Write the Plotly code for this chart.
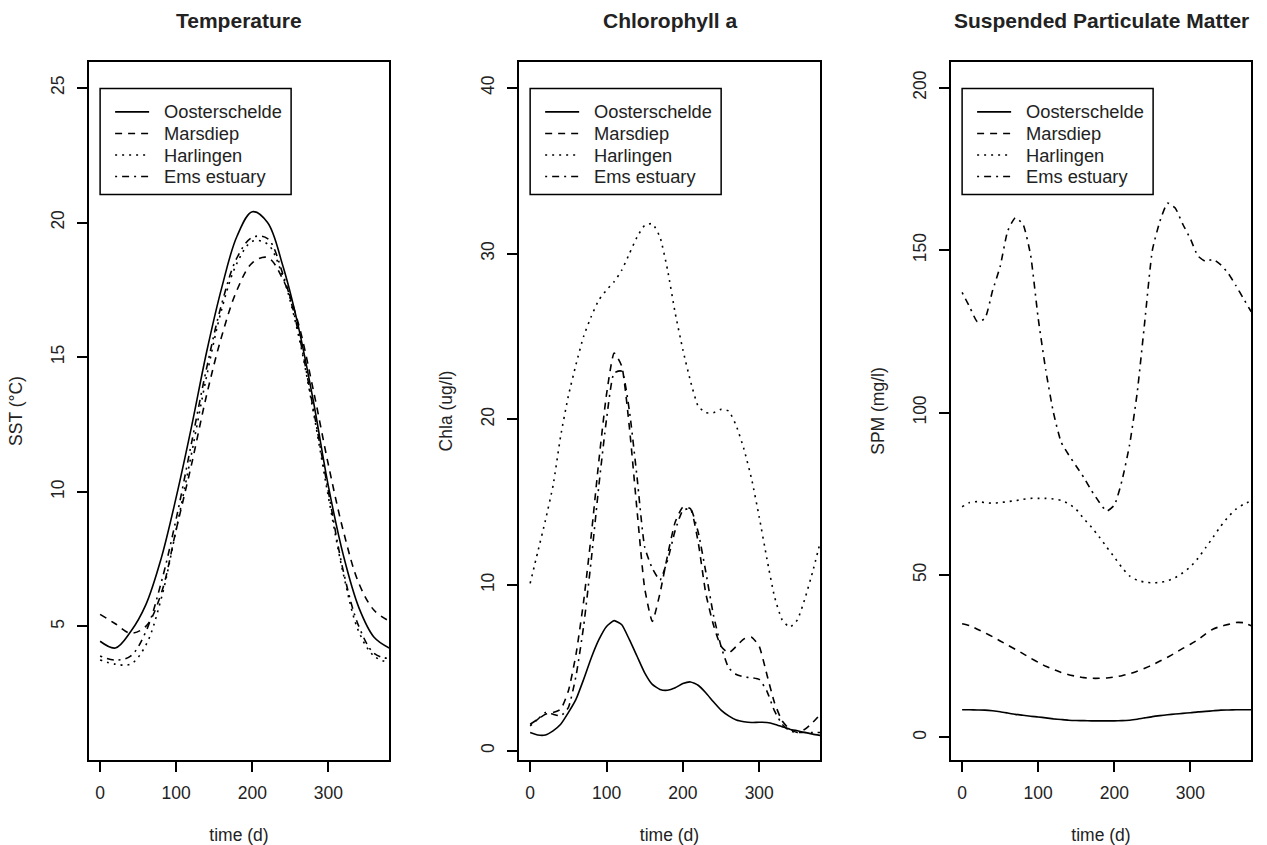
import plotly.graph_objects as go

W, H = 1267, 845

# ---------------- data ----------------
series_names = ["Oosterschelde", "Marsdiep", "Harlingen", "Ems estuary"]

# Temperature (SST, deg C), time in days
t_temp = list(range(0, 381, 20))
sst_oosterschelde = [4.45, 4.2, 4.8, 5.8, 7.5, 9.8, 12.4, 15.2, 17.6, 19.5, 20.4, 20.0, 18.4, 16.2, 13.4, 10.2, 7.6, 5.7, 4.6, 4.2]
sst_marsdiep = [5.45, 5.1, 4.75, 5.0, 6.2, 8.6, 11.0, 13.6, 15.8, 17.5, 18.5, 18.7, 17.9, 16.3, 13.8, 11.0, 8.5, 6.6, 5.6, 5.2]
sst_harlingen = [3.75, 3.6, 3.6, 4.3, 6.0, 8.6, 11.4, 14.3, 16.8, 18.5, 19.3, 19.2, 18.0, 15.9, 13.0, 9.8, 6.9, 4.8, 3.9, 3.65]
sst_ems = [3.9, 3.75, 3.9, 4.8, 6.6, 9.0, 11.8, 14.6, 17.0, 18.7, 19.45, 19.4, 18.1, 16.0, 13.1, 10.0, 7.0, 5.0, 4.0, 3.8]

# Chlorophyll a (ug/l)
t_chl = list(range(0, 381, 10))
chl_oosterschelde = [1.1, 0.95, 0.95, 1.2, 1.6, 2.3, 3.1, 4.3, 5.6, 6.7, 7.5, 7.85, 7.6, 6.7, 5.7, 4.7, 4.0, 3.7, 3.65, 3.8,
                     4.05, 4.15, 3.95, 3.5, 2.95, 2.45, 2.1, 1.85, 1.75, 1.7, 1.72, 1.7, 1.6, 1.45, 1.3, 1.2, 1.1, 1.0, 0.92]
chl_marsdiep = [1.6, 1.9, 2.2, 2.3, 2.5, 3.6, 5.8, 9.0, 13.0, 17.5, 21.5, 24.0, 23.2, 19.5, 14.5, 9.8, 7.8, 9.5, 11.8, 13.8,
                14.7, 14.6, 12.6, 9.5, 7.6, 6.3, 5.9, 6.3, 6.75, 6.85, 6.3, 4.6, 2.9, 1.8, 1.3, 1.1, 1.3, 1.7, 2.2]
chl_harlingen = [10.1, 12.0, 13.9, 16.0, 19.0, 21.4, 23.3, 25.0, 26.2, 27.2, 27.8, 28.3, 29.0, 30.0, 31.0, 31.7, 31.8, 31.0, 29.0, 26.4,
                 24.2, 22.3, 20.8, 20.4, 20.4, 20.6, 20.5, 19.6, 18.2, 16.4, 14.1, 11.6, 9.3, 7.9, 7.45, 7.9, 9.2, 10.8, 12.6]
chl_ems = [1.5, 1.9, 2.3, 2.2, 2.1, 2.6, 4.5, 7.5, 11.5, 16.0, 20.0, 22.8, 22.9, 20.5, 16.5, 12.3, 11.0, 10.3, 11.5, 13.3,
           14.5, 14.6, 13.2, 10.8, 8.2, 6.3, 5.0, 4.6, 4.45, 4.4, 4.3, 3.6, 2.4, 1.6, 1.2, 1.1, 1.1, 1.1, 1.1]

# Suspended particulate matter (mg/l)
t_spm = list(range(0, 381, 10))
spm_oosterschelde = [8.5, 8.5, 8.45, 8.4, 8.2, 7.9, 7.5, 7.1, 6.8, 6.5, 6.3, 6.0, 5.7, 5.5, 5.3, 5.2, 5.15, 5.1, 5.1, 5.1,
                     5.1, 5.15, 5.3, 5.6, 6.0, 6.4, 6.7, 6.95, 7.2, 7.4, 7.6, 7.85, 8.0, 8.2, 8.4, 8.45, 8.5, 8.5, 8.5]
spm_marsdiep = [35, 34.4, 33.3, 32.2, 31, 29.7, 28.4, 27.1, 25.8, 24.4, 23.1, 21.9, 20.9, 20.0, 19.3, 18.8, 18.4, 18.2, 18.2, 18.3,
                18.6, 19.0, 19.6, 20.4, 21.3, 22.3, 23.5, 24.7, 26.0, 27.4, 28.7, 30.1, 31.9, 33.4, 34.2, 34.8, 35.4, 35.3, 34.4]
spm_harlingen = [71, 72.3, 72.6, 72.3, 72.1, 72.3, 72.6, 72.9, 73.3, 73.6, 73.6, 73.6, 73.4, 73.0, 72.0, 70.2, 67.3, 64.7, 61.8, 58.6,
                 55.5, 52.3, 49.7, 48.4, 47.8, 47.6, 47.7, 48.2, 49.2, 50.7, 52.5, 55.2, 58.4, 61.7, 65.1, 68.0, 70.3, 71.8, 72.8]
spm_ems = [137, 132.5, 128, 129, 137.5, 145, 156, 160, 158, 148.5, 129, 113, 100, 91, 87, 83.5, 80, 76, 72.5, 69.7,
           71.5, 79, 90, 106, 128, 150, 159, 164.5, 163, 158, 153.5, 148.2, 146.6, 147.2, 145.5, 142.8, 139, 135, 131]

x_ticks = [0, 100, 200, 300]
panels = [
    dict(title="Temperature", ylabel="SST (°C)", t=t_temp,
         ys=[sst_oosterschelde, sst_marsdiep, sst_harlingen, sst_ems],
         yticks=[5, 10, 15, 20, 25], ylim=(1, 25), smooth=1.0),
    dict(title="Chlorophyll a", ylabel="Chla (ug/l)", t=t_chl,
         ys=[chl_oosterschelde, chl_marsdiep, chl_harlingen, chl_ems],
         yticks=[0, 10, 20, 30, 40], ylim=(1, 40), smooth=0.5),
    dict(title="Suspended Particulate Matter", ylabel="SPM (mg/l)", t=t_spm,
         ys=[spm_oosterschelde, spm_marsdiep, spm_harlingen, spm_ems],
         yticks=[0, 50, 100, 150, 200], ylim=(1, 200), smooth=0.5),
]
xlim = (0, 365)

# ---------------- styling / layout ----------------
FONT = "Liberation Sans, Arial, sans-serif"
TXT = "#222222"
dashes = ["solid", "7px,6px", "2px,5px", "2px,5px,7px,5px"]
LW = 1.6

box_px = [(89, 389), (519, 820), (951, 1251)]
top_px, bot_px = 62, 760


def ext(lo, hi):
    d = (hi - lo) * 0.04
    return [lo - d, hi + d]


fig = go.Figure()
shapes, annotations = [], []
layout = dict(width=W, height=H, margin=dict(l=0, r=0, t=0, b=0),
              paper_bgcolor="white", plot_bgcolor="white", showlegend=False,
              font=dict(family=FONT, size=17.5, color=TXT))

xr = ext(*xlim)
for i, p in enumerate(panels):
    n = "" if i == 0 else str(i + 1)
    xa, ya = "x" + n, "y" + n
    for name, ys, dsh in zip(series_names, p["ys"], dashes):
        fig.add_trace(go.Scatter(x=p["t"], y=ys, mode="lines", name=name,
                                 line=dict(color="black", width=LW, dash=dsh,
                                           shape="spline", smoothing=p["smooth"]),
                                 xaxis=xa, yaxis=ya, hoverinfo="x+y+name"))
    yr = ext(*p["ylim"])
    x0, x1 = box_px[i]
    common = dict(showline=True, mirror=True, linecolor="black", linewidth=1.5,
                  ticks="outside", ticklen=10, tickwidth=1.5, tickcolor="black",
                  showgrid=False, zeroline=False,
                  tickfont=dict(family=FONT, size=17.5, color=TXT))
    layout["xaxis" + n] = dict(domain=[x0 / W, x1 / W], range=xr, anchor=ya,
                               tickvals=x_ticks, ticktext=[str(v) for v in x_ticks],
                               ticklabelstandoff=6,
                               title=dict(text="time (d)", standoff=28,
                                          font=dict(family=FONT, size=17.5, color=TXT)),
                               **common)
    layout["yaxis" + n] = dict(domain=[1 - bot_px / H, 1 - top_px / H], range=yr, anchor=xa,
                               tickvals=p["yticks"], ticktext=[str(v) for v in p["yticks"]],
                               tickangle=-90, ticklabelstandoff=6,
                               title=dict(text=p["ylabel"], standoff=21,
                                          font=dict(family=FONT, size=17.5, color=TXT)),
                               **common)
    # panel title
    annotations.append(dict(text="<b>" + p["title"] + "</b>", xref="paper", yref="paper",
                            x=(x0 + x1) / 2 / W, y=1 - 20 / H, xanchor="center", yanchor="middle",
                            showarrow=False, font=dict(family=FONT, size=21, color=TXT)))
    # legend (drawn as in the original: box at top-left of data region)
    frac = (0 - xr[0]) / (xr[1] - xr[0])
    L = x0 + frac * (x1 - x0)
    T = 88.5
    bw, bh = 191, 106
    shapes.append(dict(type="rect", xref="paper", yref="paper",
                       x0=L / W, x1=(L + bw) / W, y0=1 - T / H, y1=1 - (T + bh) / H,
                       line=dict(color="black", width=1.5), fillcolor="white", layer="above"))
    rows = [23.4, 45.0, 66.5, 88.0]
    for name, dsh, r in zip(series_names, dashes, rows):
        yy = 1 - (T + r) / H
        shapes.append(dict(type="line", xref="paper", yref="paper",
                           x0=(L + 15) / W, x1=(L + 49) / W, y0=yy, y1=yy,
                           line=dict(color="black", width=LW, dash=dsh), layer="above"))
        annotations.append(dict(text=name, xref="paper", yref="paper",
                                x=(L + 62) / W, y=yy, xanchor="left", yanchor="middle",
                                showarrow=False, font=dict(family=FONT, size=18.3, color=TXT)))

layout["shapes"] = shapes
layout["annotations"] = annotations
fig.update_layout(**layout)
fig.write_html("out.html", config={"displayModeBar": False},
               post_script="document.body.style.margin='0';")
